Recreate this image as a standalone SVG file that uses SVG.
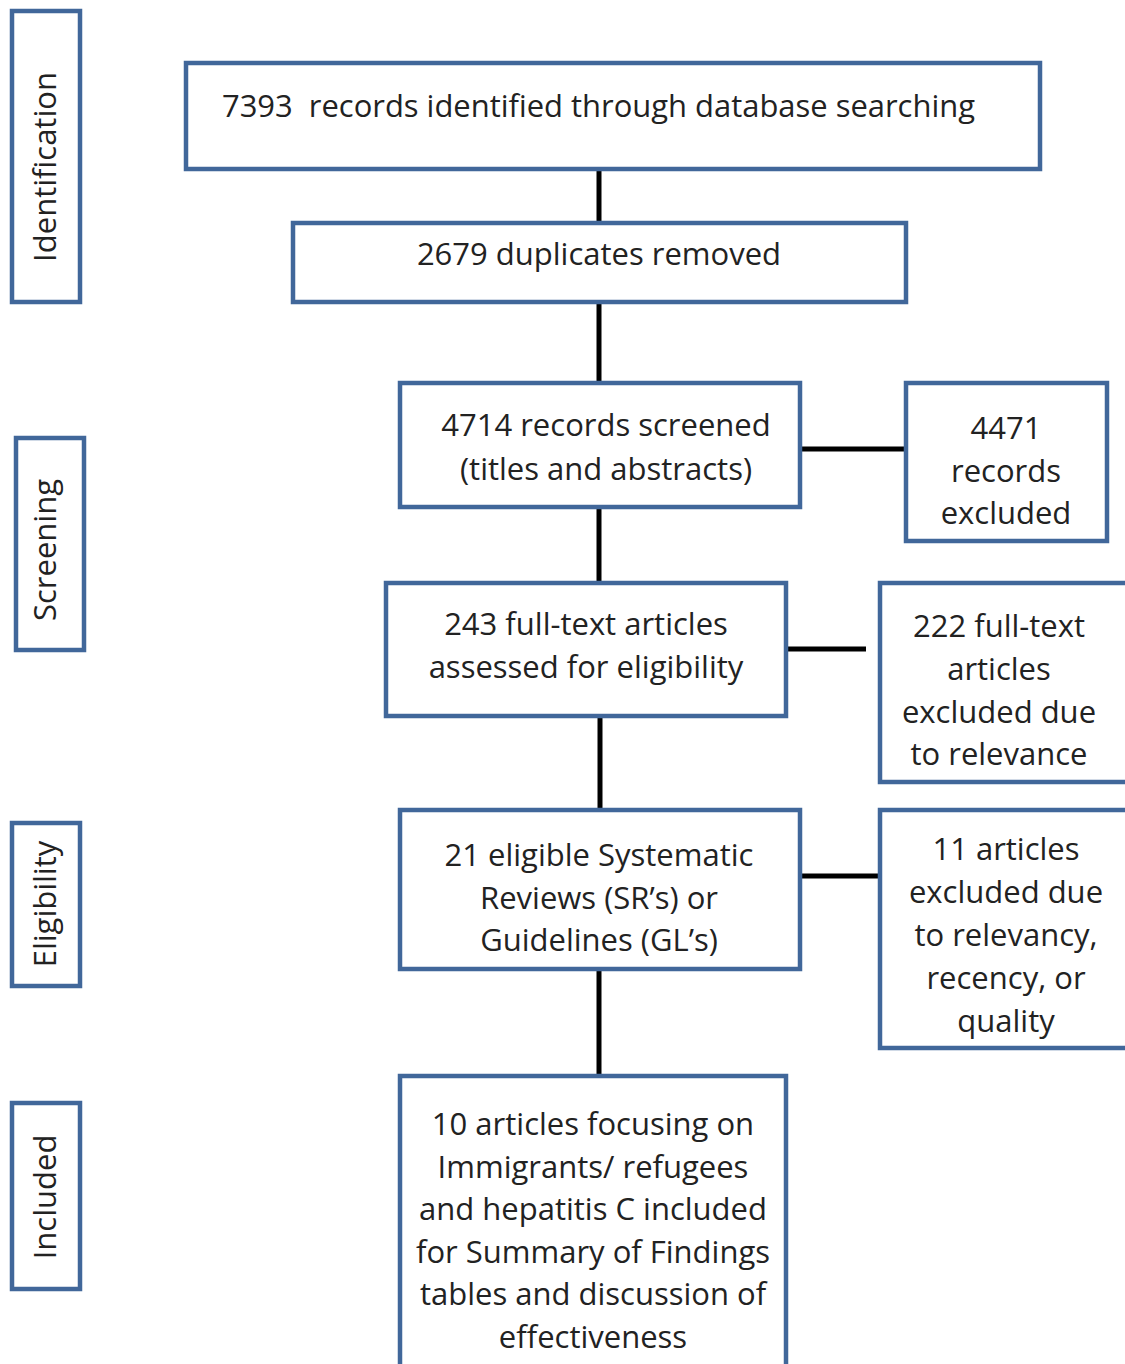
<svg xmlns="http://www.w3.org/2000/svg" width="1125" height="1364" viewBox="0 0 1125 1364">
<style>
.box{fill:#fff;stroke:#41679a;stroke-width:4.5}
.t{font-family:"Open Sans","Liberation Sans",sans-serif;font-size:31px;fill:#222;text-anchor:middle}
.s{font-family:"Open Sans","Liberation Sans",sans-serif;font-size:31px;fill:#222;text-anchor:middle}
.c{stroke:#000;stroke-width:5;fill:none}
</style>
<rect width="1125" height="1364" fill="#fff"/>
<g id="stage-identification"><rect class="box" x="12" y="11" width="68" height="291"/><text class="s" transform="translate(56,167) rotate(-90)">Identification</text></g>
<g id="stage-screening"><rect class="box" x="16" y="438" width="68" height="212"/><text class="s" transform="translate(56,550) rotate(-90)">Screening</text></g>
<g id="stage-eligibility"><rect class="box" x="12" y="823" width="68" height="163"/><text class="s" transform="translate(56,904) rotate(-90)">Eligibility</text></g>
<g id="stage-included"><rect class="box" x="12" y="1103" width="68" height="186"/><text class="s" transform="translate(56,1197) rotate(-90)">Included</text></g>
<g id="connectors">
<line class="c" x1="599" y1="170" x2="599" y2="222"/>
<line class="c" x1="599" y1="303" x2="599" y2="382"/>
<line class="c" x1="599" y1="508" x2="599" y2="582"/>
<line class="c" x1="600" y1="717" x2="600" y2="809"/>
<line class="c" x1="599" y1="970" x2="599" y2="1075"/>
<line class="c" x1="801" y1="449" x2="905" y2="449"/>
<line class="c" x1="787" y1="649" x2="866" y2="649"/>
<line class="c" x1="801" y1="876" x2="879" y2="876"/>
</g>
<g id="n1"><rect class="box" x="186" y="63" width="854" height="106"/><text class="t" x="222" y="117" style="text-anchor:start" textLength="753" lengthAdjust="spacingAndGlyphs">7393&#160; records identified through database searching</text></g>
<g id="n2"><rect class="box" x="293" y="223" width="613" height="79"/><text class="t" x="599" y="265">2679 duplicates removed</text></g>
<g id="n3"><rect class="box" x="400" y="383" width="400" height="124"/><text class="t" x="606" y="436">4714 records screened</text><text class="t" x="606" y="480">(titles and abstracts)</text></g>
<g id="n4"><rect class="box" x="906" y="383" width="201" height="158"/><text class="t" x="1006" y="439">4471</text><text class="t" x="1006" y="482">records</text><text class="t" x="1006" y="524">excluded</text></g>
<g id="n5"><rect class="box" x="386" y="583" width="400" height="133"/><text class="t" x="586" y="635">243 full-text articles</text><text class="t" x="586" y="678">assessed for eligibility</text></g>
<g id="n6"><rect class="box" x="880" y="583" width="250" height="199"/><text class="t" x="999" y="637">222 full-text</text><text class="t" x="999" y="680">articles</text><text class="t" x="999" y="723">excluded due</text><text class="t" x="999" y="765">to relevance</text></g>
<g id="n7"><rect class="box" x="400" y="810" width="400" height="159"/><text class="t" x="599" y="866">21 eligible Systematic</text><text class="t" x="599" y="909">Reviews (SR’s) or</text><text class="t" x="599" y="951">Guidelines (GL’s)</text></g>
<g id="n8"><rect class="box" x="880" y="810" width="250" height="238"/><text class="t" x="1006" y="860">11 articles</text><text class="t" x="1006" y="903">excluded due</text><text class="t" x="1006" y="946">to relevancy,</text><text class="t" x="1006" y="989">recency, or</text><text class="t" x="1006" y="1032">quality</text></g>
<g id="n9"><rect class="box" x="400" y="1076" width="386" height="300"/><text class="t" x="593" y="1135">10 articles focusing on</text><text class="t" x="593" y="1178">Immigrants/ refugees</text><text class="t" x="593" y="1220">and hepatitis C included</text><text class="t" x="593" y="1263">for Summary of Findings</text><text class="t" x="593" y="1305">tables and discussion of</text><text class="t" x="593" y="1348">effectiveness</text></g>
</svg>
